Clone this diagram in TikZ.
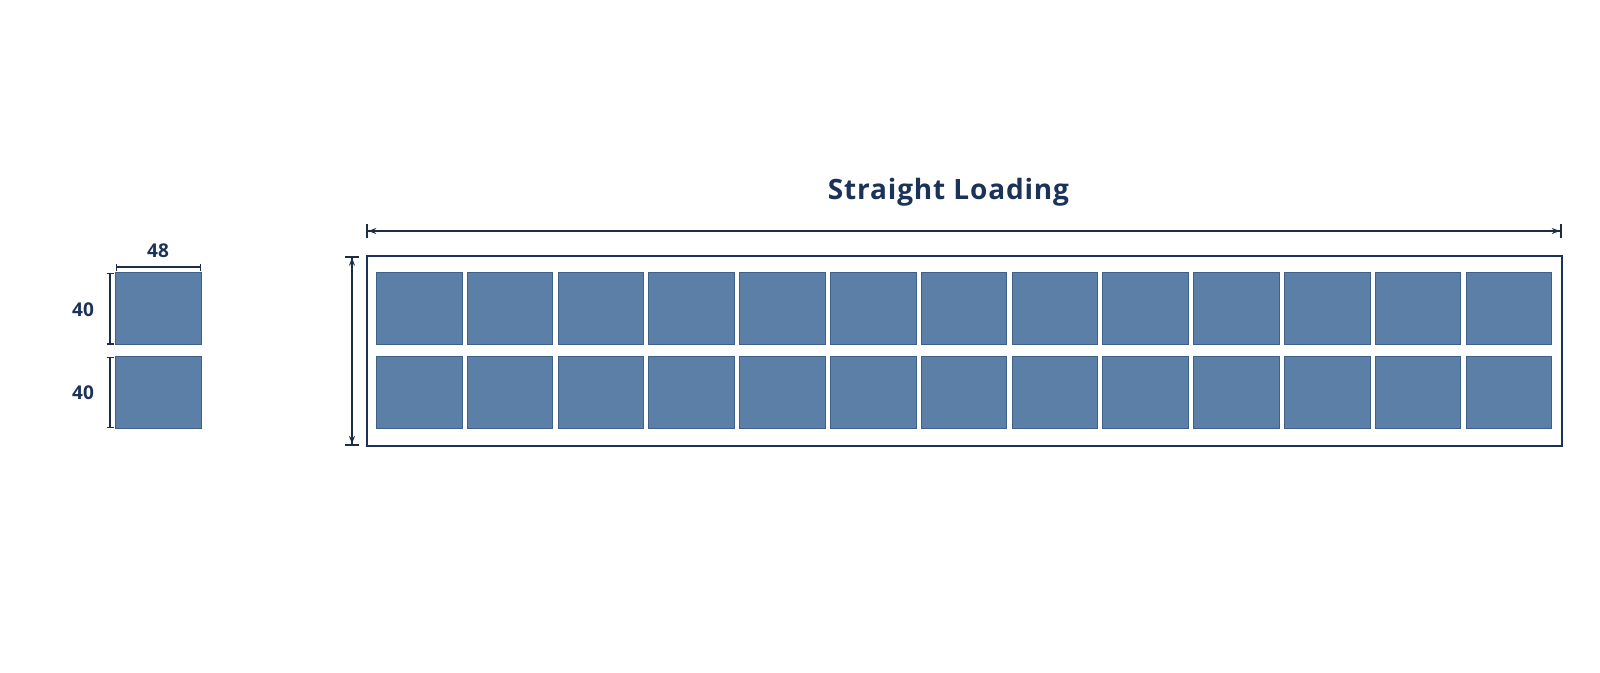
\documentclass[tikz,border=0pt]{standalone}
\usepackage{fontspec}
\setmainfont{Open Sans}
\usepackage{xcolor}
\usepackage{tikz}
\usetikzlibrary{arrows.meta,positioning}
\definecolor{navy}{HTML}{1B3358}
\definecolor{dimcol}{HTML}{1E2D44}
\definecolor{palletblue}{HTML}{5B7FA6}
\definecolor{palletedge}{HTML}{3E6189}
\tikzstyle{pallet} = [rectangle, draw=palletedge, line width=0.8pt, fill=palletblue, minimum width=85.6, minimum height=71.5, inner sep=0pt]
\tikzstyle{trailer} = [rectangle, draw=navy, line width=2pt, minimum width=1195, minimum height=190, inner sep=0pt]
\tikzstyle{dimline} = [draw=dimcol, line width=1.4pt]
\tikzstyle{dimlabel} = [text=navy, font=\bfseries\fontsize{19}{22}\selectfont]
\tikzstyle{dimarrow} = [dimline, {Bar[width=14pt,line width=2.2pt,sep=0pt]Stealth[length=8pt,width=6pt]}-{Stealth[length=8pt,width=6pt]Bar[width=14pt,line width=2.2pt,sep=0pt]}]
\tikzstyle{dimbar} = [dimline, {Bar[width=7pt]}-{Bar[width=7pt]}]

\begin{document}
\begin{tikzpicture}[x=1pt, y=-1pt]
		\useasboundingbox (0,0) rectangle (1600,672);
		\coordinate (widthL) at (116,267);
		\coordinate (widthR) at (201,267);
		\coordinate (upperT) at (110,272.5);
		\coordinate (upperB) at (110,344.5);
		\coordinate (lowerT) at (110,356.5);
		\coordinate (lowerB) at (110,428);
		\coordinate (lengthL) at (366,231);
		\coordinate (lengthR) at (1562,231);
		\coordinate (heightT) at (352,255.5);
		\coordinate (heightB) at (352,446);
		% Single pallet
		\node[pallet] (single1) at (158.4,308.6) {};
		\node[pallet] (single2) at (158.4,392.3) {};
		\draw[dimbar] (widthL)--(widthR);
		\draw[dimbar] (upperT)--(upperB);
		\draw[dimbar] (lowerT)--(lowerB);
		\node[dimlabel] (w48) at (158,251) {48};
		\node[dimlabel] (h40a) at (83,310) {40};
		\node[dimlabel] (h40b) at (83,393) {40};
		% Trailer
		\node[trailer] (trailer) at (964.2,350.7) {};
		\foreach \i in {0,...,12} {
			\node[pallet] (top\i) at ({419.1+90.8*\i},308.5) {};
			\node[pallet] (bot\i) at ({419.1+90.8*\i},392.2) {};
		}
		\draw[dimarrow] (lengthL)--(lengthR);
		\draw[dimarrow] (heightT)--(heightB);
		% Title
		\node[text=navy, anchor=base, font=\bfseries\fontsize{28}{33}\selectfont\addfontfeature{LetterSpace=3}] (title) at (948.5,199.3) {Straight Loading};
		\end{tikzpicture}
\end{document}
